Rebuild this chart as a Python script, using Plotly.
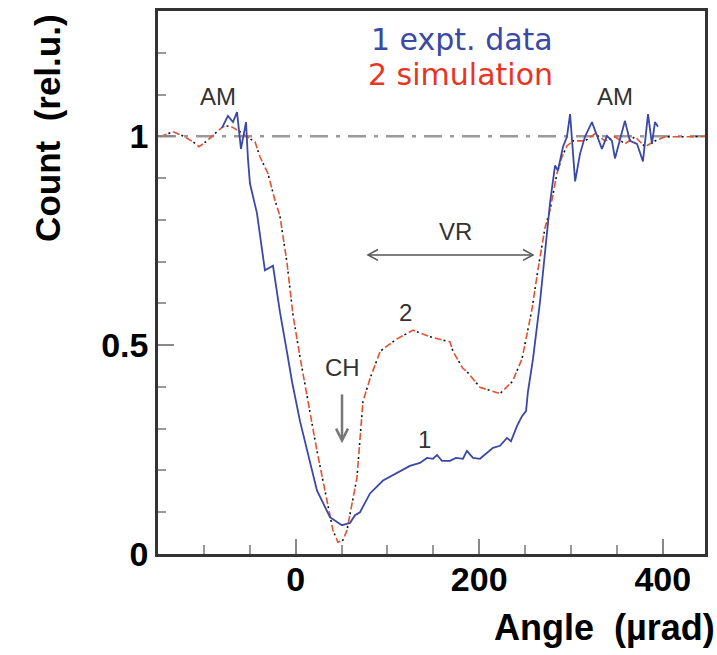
import plotly.graph_objects as go

# ---- data ----
exp_x = [-80.3, -73.8, -68.3, -63.9, -59.6, -54.1, -52.0, -49.8, -42.2, -33.5, -24.7, -17.1, -9.5, -4.0,
         4.7, 12.3, 23.2, 37.4, 50.4, 59.2, 64.6, 70.1, 81.0, 95.2, 110.4, 124.5, 135.4, 143.1, 149.6,
         154.0, 159.4, 168.1, 174.7, 182.3, 186.6, 193.2, 200.8, 208.4, 215.0, 222.6, 230.2, 234.6,
         241.1, 246.6, 251.0, 253.1, 258.6, 266.2, 277.1, 282.6, 285.8, 291.3, 295.6, 299.0, 304.5,
         309.8, 315.2, 322.8, 328.3, 333.7, 339.2, 344.6, 347.9, 353.3, 358.8, 364.2, 371.9, 378.4,
         383.9, 388.2, 391.5, 394.8]
exp_y = [1.020, 1.049, 1.034, 1.058, 0.970, 1.034, 0.947, 0.887, 0.816, 0.679, 0.690, 0.579, 0.484, 0.413,
         0.318, 0.247, 0.152, 0.088, 0.069, 0.074, 0.093, 0.100, 0.145, 0.176, 0.195, 0.211, 0.218, 0.230,
         0.228, 0.237, 0.223, 0.223, 0.230, 0.228, 0.247, 0.230, 0.228, 0.242, 0.254, 0.259, 0.278, 0.270,
         0.306, 0.330, 0.342, 0.389, 0.467, 0.603, 0.840, 0.930, 0.918, 0.975, 0.999, 1.053, 0.892,
         0.958, 0.999, 1.034, 0.999, 0.970, 1.001, 0.989, 0.947, 0.994, 1.037, 0.989, 0.982, 0.940,
         1.053, 0.982, 1.034, 1.023]

sim_x = [-147.8, -140.2, -133.7, -122.8, -111.9, -105.4, -96.6, -85.7, -79.2, -71.6, -60.7, -49.8, -44.3,
         -38.9, -30.2, -22.6, -17.1, -9.5, -2.9, 4.7, 13.4, 23.2, 31.9, 40.6, 46.1, 51.5, 55.9, 62.5, 66.8,
         73.3, 81.0, 91.9, 95.2, 110.4, 127.9, 146.4, 168.1, 171.6, 182.3, 186.6, 200.8, 222.6, 236.2,
         246.6, 257.5, 264.0, 271.7, 277.1, 284.7, 290.2, 295.6, 302.1, 315.2, 326.1, 337.1, 347.9,
         358.8, 369.7, 380.6, 391.5, 402.4, 429.6, 445.8]
sim_y = [0.999, 1.006, 1.011, 1.001, 0.987, 0.975, 0.989, 1.011, 1.023, 1.025, 1.011, 0.994, 0.987,
         0.951, 0.911, 0.847, 0.809, 0.698, 0.572, 0.472, 0.365, 0.247, 0.152, 0.057, 0.028, 0.033, 0.057,
         0.128, 0.183, 0.365, 0.420, 0.484, 0.491, 0.515, 0.536, 0.520, 0.508, 0.484, 0.444, 0.437, 0.399,
         0.384, 0.413, 0.467, 0.586, 0.681, 0.781, 0.823, 0.911, 0.951, 0.977, 0.989, 0.989, 1.006,
         0.989, 0.999, 0.982, 0.999, 0.975, 0.989, 0.999, 0.999, 1.000]

x_ticks = [0, 200, 400]
y_ticks = [0, 0.5, 1]
legend_labels = ["1 expt. data", "2 simulation"]

BOLD = "Liberation Sans"
BLUE = "#3a48a6"
RED = "#e5502e"
GREY_TXT = "#333333"

fig = go.Figure()

# reference line at 1
fig.add_shape(type="line", xref="paper", x0=0, x1=1, yref="y", y0=1, y1=1,
              line=dict(color="#9a9a9a", width=2.5, dash="18px,8px,4px,8px"), layer="below")

# simulation: red dashes + black dots on the same path
fig.add_trace(go.Scatter(x=sim_x, y=sim_y, mode="lines", line=dict(color=RED, width=1.6, dash="7px,7px"),
                         hoverinfo="skip", showlegend=False))
fig.add_trace(go.Scatter(x=sim_x, y=sim_y, mode="lines", line=dict(color="#111111", width=1.6, dash="0px,9px,2px,3px"),
                         hoverinfo="skip", showlegend=False))
# experiment
fig.add_trace(go.Scatter(x=exp_x, y=exp_y, mode="lines", line=dict(color=BLUE, width=1.8),
                         hoverinfo="skip", showlegend=False))

ann = []
def label(text, x, y, size=24, color=GREY_TXT, family="Liberation Sans", xanchor="center"):
    ann.append(dict(x=x, y=y, xref="x", yref="y", text=text, showarrow=False,
                    font=dict(family=family, size=size, color=color), xanchor=xanchor, yanchor="middle"))

label("AM", -84.4, 1.096)
label("AM", 348.0, 1.096)
label("VR", 174.1, 0.773)
label("2", 119.2, 0.579)
label("CH", 50.5, 0.446)
label("1", 139.9, 0.275)
label(legend_labels[0], 283.0, 1.232, size=30, color=BLUE, family="DejaVu Sans", xanchor="right")
label(legend_labels[1], 283.0, 1.148, size=30, color="#e8351f", family="DejaVu Sans", xanchor="right")

# axis titles
ann.append(dict(xref="paper", yref="paper", x=1, y=-0.135, xshift=12, xanchor="right", yanchor="middle",
                text="Angle  (\u00b5rad)", showarrow=False,
                font=dict(family=BOLD, size=36, color="black", weight="bold")))
ann.append(dict(xref="paper", yref="paper", x=-0.201, y=0.783, xanchor="center", yanchor="middle",
                text="Count  (rel.u.)", textangle=-90, showarrow=False,
                font=dict(family=BOLD, size=35, color="black", weight="bold")))
fig.update_layout(annotations=ann)

# VR double arrow
ac = "#555555"
fig.add_shape(type="line", x0=78.8, x1=258.6, y0=0.716, y1=0.716, line=dict(color=ac, width=1.5))
fig.add_shape(type="path", path="M 89.7,0.729 L 78.8,0.716 L 89.7,0.703", line=dict(color=ac, width=1.5))
fig.add_shape(type="path", path="M 247.7,0.729 L 258.6,0.716 L 247.7,0.703", line=dict(color=ac, width=1.5))
# CH arrow
ac2 = "#777777"
fig.add_shape(type="line", x0=50.5, x1=50.5, y0=0.382, y1=0.272, line=dict(color=ac2, width=2.5))
fig.add_shape(type="path", path="M 44.0,0.300 L 50.5,0.272 L 57.0,0.300", line=dict(color=ac2, width=2.5))

fig.update_xaxes(range=[-150, 446], tickvals=x_ticks, ticks="inside", ticklen=15, tickwidth=1.5,
                 tickcolor="#888888", showline=True, mirror=True, linecolor="#333333", linewidth=2.5,
                 showgrid=False, zeroline=False, ticklabelstandoff=-7,
                 tickfont=dict(family=BOLD, size=34, color="black", weight="bold"),
                 minor=dict(ticks="inside", dtick=50, tick0=0, ticklen=9, tickwidth=1.5, tickcolor="#999999", showgrid=False))
fig.update_yaxes(range=[0, 1.3], tickvals=y_ticks, ticktext=["0", "0.5", "1"], ticks="inside", ticklen=16, tickwidth=1.5,
                 tickcolor="#888888", showline=True, mirror=True, linecolor="#333333", linewidth=2.5,
                 showgrid=False, zeroline=False,
                 tickfont=dict(family=BOLD, size=34, color="black", weight="bold"),
                 minor=dict(ticks="inside", dtick=0.1, tick0=0, ticklen=8, tickwidth=1.5, tickcolor="#999999", showgrid=False))

fig.update_layout(width=717, height=655, margin=dict(l=158, r=12, t=8, b=101),
                  plot_bgcolor="white", paper_bgcolor="white", showlegend=False)

fig.write_html("out.html")
